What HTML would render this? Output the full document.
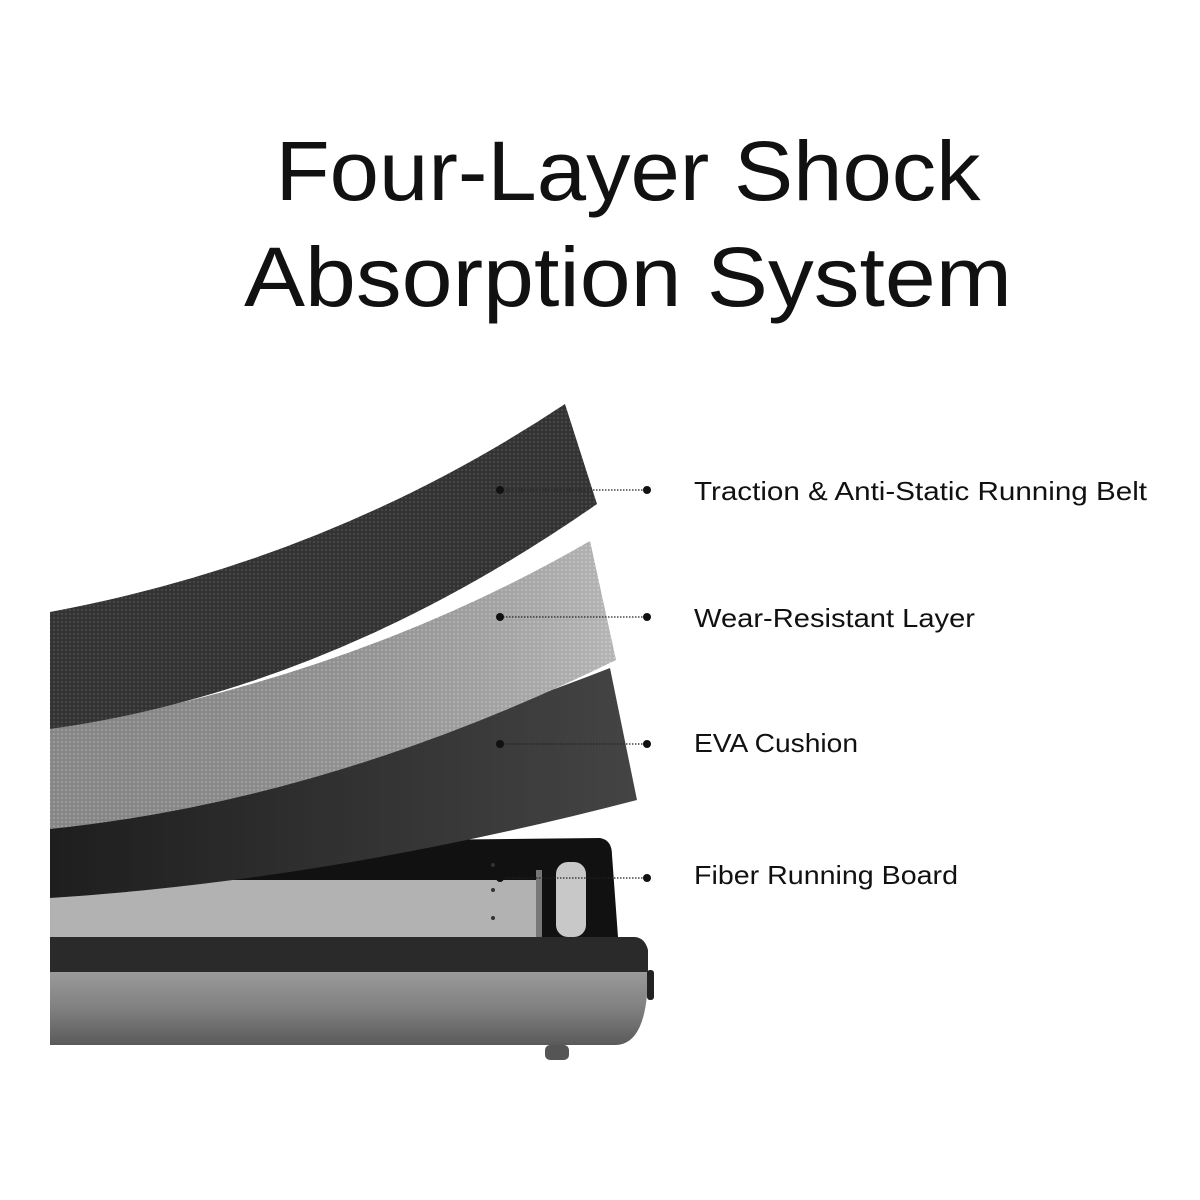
<!DOCTYPE html>
<html><head><meta charset="utf-8"><style>
html,body{margin:0;padding:0;background:#fff}
svg{display:block}
text{font-family:"Liberation Sans",sans-serif;fill:#111}
</style></head><body>
<svg width="1200" height="1200" viewBox="0 0 1200 1200" xmlns="http://www.w3.org/2000/svg">
<defs>
<pattern id="p1" width="4" height="4" patternUnits="userSpaceOnUse"><rect width="4" height="4" fill="#333"/><circle cx="2" cy="2" r="1" fill="#4d4d4d"/></pattern>
<pattern id="p2" width="4" height="4" patternUnits="userSpaceOnUse"><rect width="4" height="4" fill="#959595"/><circle cx="2" cy="2" r="1" fill="#b4b4b4"/></pattern>
<linearGradient id="g2" x1="0" y1="0" x2="1" y2="0"><stop offset="0" stop-color="#000" stop-opacity="0.1"/><stop offset="1" stop-color="#fff" stop-opacity="0.3"/></linearGradient>
<linearGradient id="silver" x1="0" y1="0" x2="0" y2="1"><stop offset="0" stop-color="#9a9a9a"/><stop offset="0.5" stop-color="#808080"/><stop offset="1" stop-color="#5a5a5a"/></linearGradient>
<linearGradient id="eva" x1="0" y1="0" x2="1" y2="0"><stop offset="0" stop-color="#1e1e1e"/><stop offset="1" stop-color="#444"/></linearGradient>
</defs>
<text x="628" y="200" font-size="84" text-anchor="middle" textLength="705" lengthAdjust="spacingAndGlyphs">Four-Layer Shock</text>
<text x="628" y="306" font-size="84" text-anchor="middle" textLength="768" lengthAdjust="spacingAndGlyphs">Absorption System</text>

<path d="M50 870 L412 840 L600 838 Q612 840 612 855 L618 937 L50 937 Z" fill="#111"/>
<rect x="50" y="880" width="488" height="57" fill="#b2b2b2"/>
<rect x="536" y="870" width="6" height="67" fill="#777"/>
<rect x="556" y="862" width="30" height="75" rx="12" fill="#c8c8c8"/>
<circle cx="493" cy="865" r="2" fill="#333"/><circle cx="493" cy="890" r="2" fill="#333"/><circle cx="493" cy="918" r="2" fill="#333"/>
<path d="M50 937 L635 937 Q645 938 648 950 L648 972 L50 972 Z" fill="#2a2a2a"/>
<path d="M50 972 L648 972 Q648 1045 615 1045 L50 1045 Z" fill="url(#silver)"/>
<rect x="647" y="970" width="7" height="30" rx="3" fill="#222"/>
<rect x="545" y="1045" width="24" height="15" rx="5" fill="#555"/>

<path d="M50 820 Q350 770 610 668 L637 800 Q330 880 50 898 Z" fill="url(#eva)"/>
<path d="M50 729 Q350 680 590 541 L616 660 Q330 800 50 829 Z" fill="url(#p2)"/>
<path d="M50 729 Q350 680 590 541 L616 660 Q330 800 50 829 Z" fill="url(#g2)"/>
<path d="M50 612 Q330 560 565 404 L597 504 Q330 690 50 729 Z" fill="url(#p1)"/>

<g stroke="#222" stroke-width="1.2" stroke-dasharray="1.5 1.5">
<line x1="500" y1="490" x2="647" y2="490"/>
<line x1="500" y1="617" x2="647" y2="617"/>
<line x1="500" y1="744" x2="647" y2="744"/>
<line x1="500" y1="878" x2="647" y2="878"/>
</g>
<g fill="#111">
<circle cx="500" cy="490" r="4"/><circle cx="647" cy="490" r="4"/>
<circle cx="500" cy="617" r="4"/><circle cx="647" cy="617" r="4"/>
<circle cx="500" cy="744" r="4"/><circle cx="647" cy="744" r="4"/>
<circle cx="500" cy="878" r="4"/><circle cx="647" cy="878" r="4"/>
</g>
<text x="694" y="500" font-size="26" textLength="453" lengthAdjust="spacingAndGlyphs">Traction &amp; Anti-Static Running Belt</text>
<text x="694" y="627" font-size="26" textLength="281" lengthAdjust="spacingAndGlyphs">Wear-Resistant Layer</text>
<text x="694" y="752" font-size="26" textLength="164" lengthAdjust="spacingAndGlyphs">EVA Cushion</text>
<text x="694" y="884" font-size="26" textLength="264" lengthAdjust="spacingAndGlyphs">Fiber Running Board</text>
</svg>
</body></html>
